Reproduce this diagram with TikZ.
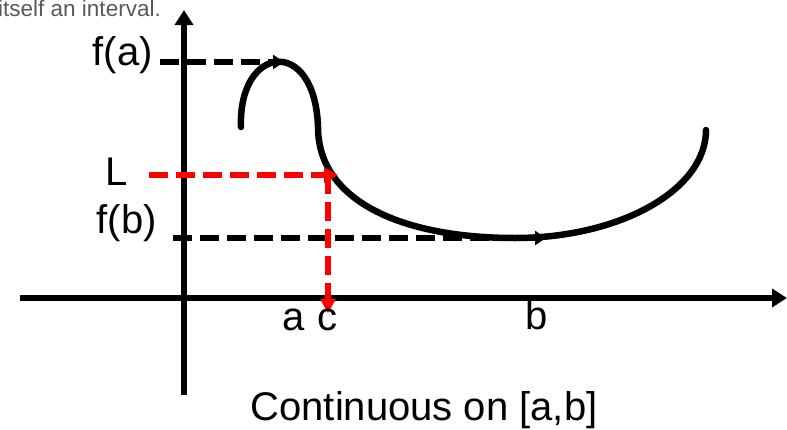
\documentclass[tikz,border=0pt]{standalone}
\usepackage{fontspec}
\setmainfont{Liberation Sans}
\usetikzlibrary{arrows.meta}
\begin{document}
\begin{tikzpicture}[x=1pt,y=-1pt,
  axisline/.style={line width=6.5pt, -{Triangle[length=15pt,width=18pt]}},
  curveline/.style={line width=6.5pt, line cap=round},
  guide/.style={line width=6pt, dash pattern=on 19pt off 8pt, -{Triangle[length=11pt,width=14pt]}},
  redguide/.style={guide, draw=red, -{Triangle[length=14pt,width=15pt]}},
  lbl/.style={font=\fontsize{40}{42}\selectfont, inner sep=0pt},
]
\useasboundingbox (0,0) rectangle (787,429);
\begin{scope}
\clip (0,0) rectangle (787,429);
\node[anchor=base east, font=\fontsize{22.5}{25}\selectfont, text=black!65, inner sep=0pt] (note) at (161,16) {itself an interval.};
\end{scope}
% coordinates
\coordinate (xl) at (20,298); \coordinate (xr) at (787,298);
\coordinate (yb) at (184,395); \coordinate (yt) at (184,10);
\coordinate (fa0) at (160,62); \coordinate (fa1) at (284,62);
\coordinate (fb0) at (173,238); \coordinate (fb1) at (546,238);
\coordinate (L0) at (149,175); \coordinate (L1) at (338,175);
\coordinate (c0) at (328,175); \coordinate (c1) at (328,313);
\coordinate (k0) at (241,127); \coordinate (k1) at (318,127);
\coordinate (k2) at (515,238); \coordinate (k3) at (706,130);
% axes
\draw[axisline] (xl) -- (xr);
\draw[axisline] (yb) -- (yt);
% black guides
\draw[guide] (fa0) -- (fa1);
\draw[guide] (fb0) -- (fb1);
% curve
\draw[curveline] (k0) .. controls (238,45) and (315,35) .. (k1)
  .. controls (318,200) and (400,238) .. (k2)
  .. controls (620,238) and (706,190) .. (k3);
% red guides
\draw[redguide] (L0) -- (L1);
\draw[redguide] (c0) -- (c1);
% labels
\node[lbl, anchor=base east] (lfa) at (153,65) {f(a)};
\node[lbl, anchor=base west] (lL) at (105,185) {L};
\node[lbl, anchor=base east] (lfb) at (157,233) {f(b)};
\node[lbl, anchor=base] (la) at (294,330) {a};
\node[lbl, anchor=base] (lc) at (327,330) {c};
\node[lbl, anchor=base] (lb) at (537,329) {b};
\node[lbl, anchor=base] (cap) at (424,420) {Continuous on [a,b]};
\end{tikzpicture}
\end{document}
